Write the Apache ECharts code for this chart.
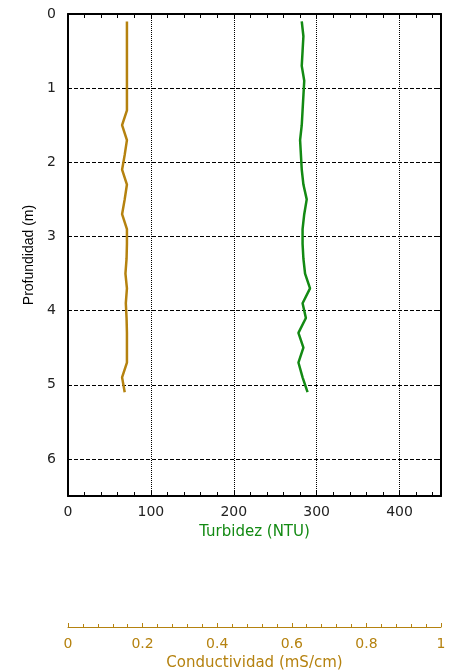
<!DOCTYPE html>
<html>
<head>
<meta charset="utf-8">
<script src="https://cdn.jsdelivr.net/npm/echarts@6/dist/echarts.min.js"></script>
<style>
html, body { margin: 0; padding: 0; background: #fff; }
#main { width: 454px; height: 671px; }
</style>
</head>
<body>
<div id="main"></div>
<script>
// profundidad (m)
var depth = [0.1, 0.3, 0.5, 0.7, 0.9, 1.1, 1.3, 1.5, 1.7, 1.9, 2.1, 2.3, 2.5,
	2.7, 2.9, 3.1, 3.3, 3.5, 3.7, 3.9, 4.1, 4.3, 4.5, 4.7, 4.9, 5.1];
// turbidez (NTU)
var turbidez = [282, 284, 283, 282, 285, 284, 283, 282, 280, 281, 282, 284, 288,
	285, 283, 283, 284, 286, 292, 283, 287, 278, 284, 278, 283, 289];
// conductividad (mS/cm)
var conduct = [0.158, 0.158, 0.158, 0.158, 0.158, 0.158, 0.158, 0.145, 0.158, 0.152,
	0.145, 0.158, 0.152, 0.145, 0.158, 0.158, 0.157, 0.154, 0.158, 0.155,
	0.157, 0.158, 0.158, 0.158, 0.145, 0.152];

var verde = '#138a13';
var ocre = '#b5820f';
var fuente = 'DejaVu Sans, sans-serif';
var fuenteV = 'Liberation Sans, Arial, sans-serif';

function pares(xs) {
	var out = [];
	for (var i = 0; i < depth.length; i++) {
		out.push([xs[i], depth[i]]);
	}
	return out;
}

var myChart = echarts.init(document.getElementById('main'));
var option = {
	animation : false,
	textStyle : { fontFamily : fuente },
	grid : {
		left : 68,
		top : 14,
		width : 373,
		height : 482,
		containLabel : false,
		outerBoundsMode : 'none'
	},
	xAxis : [ {
		// turbidez, abajo
		type : 'value',
		position : 'bottom',
		min : 0,
		max : 450,
		interval : 100,
		name : 'Turbidez (NTU)',
		nameLocation : 'middle',
		nameGap : 29,
		nameTextStyle : { color : verde, fontSize : 15, fontFamily : fuente },
		axisLine : { onZero : false, lineStyle : { color : '#000', width : 2 } },
		axisTick : { inside : true, length : 5, lineStyle : { color : '#000' } },
		minorTick : { show : true, splitNumber : 5, length : 4, lineStyle : { color : '#000' } },
		axisLabel : { color : '#222', fontSize : 14, margin : 9, fontFamily : fuente, showMaxLabel : false },
		splitLine : { show : true, lineStyle : { color : '#000', type : 'dotted', width : 1 } }
	}, {
		// conductividad, abajo con desplazamiento
		type : 'value',
		position : 'bottom',
		offset : 131,
		min : 0,
		max : 1,
		interval : 0.2,
		name : 'Conductividad (mS/cm)',
		nameLocation : 'middle',
		nameGap : 29,
		nameTextStyle : { color : ocre, fontSize : 15, fontFamily : fuente },
		axisLine : { onZero : false, lineStyle : { color : ocre, width : 1 } },
		axisTick : { inside : true, length : 4, lineStyle : { color : ocre } },
		minorTick : { show : true, splitNumber : 5, length : 3, lineStyle : { color : ocre } },
		axisLabel : { color : ocre, fontSize : 14, margin : 10, fontFamily : fuente },
		splitLine : { show : false }
	}, {
		// marco superior
		type : 'value',
		position : 'top',
		min : 0,
		max : 450,
		interval : 100,
		axisLine : { onZero : false, lineStyle : { color : '#000', width : 2 } },
		axisTick : { inside : true, length : 5, lineStyle : { color : '#000' } },
		minorTick : { show : true, splitNumber : 5, length : 4, lineStyle : { color : '#000' } },
		axisLabel : { show : false },
		splitLine : { show : false }
	} ],
	yAxis : [ {
		type : 'value',
		position : 'left',
		inverse : true,
		min : 0,
		max : 6.5,
		interval : 1,
		name : 'Profundidad (m)',
		nameLocation : 'middle',
		nameGap : 30,
		nameTextStyle : { color : '#000', fontSize : 14, fontFamily : fuenteV },
		axisLine : { onZero : false, lineStyle : { color : '#000', width : 2 } },
		axisTick : { show : false },
		axisLabel : { color : '#222', fontSize : 14, margin : 12, fontFamily : fuente, showMaxLabel : false },
		splitLine : { show : true, lineStyle : { color : '#000', type : 'dashed', width : 1 } }
	}, {
		type : 'value',
		position : 'right',
		inverse : true,
		min : 0,
		max : 6.5,
		interval : 1,
		axisLine : { onZero : false, lineStyle : { color : '#000', width : 2 } },
		axisTick : { inside : true, length : 5, lineStyle : { color : '#000' } },
		axisLabel : { show : false },
		splitLine : { show : false }
	} ],
	series : [ {
		name : 'Turbidez',
		type : 'line',
		xAxisIndex : 0,
		yAxisIndex : 0,
		data : pares(turbidez),
		showSymbol : false,
		lineStyle : { color : verde, width : 2.5 }
	}, {
		name : 'Conductividad',
		type : 'line',
		xAxisIndex : 1,
		yAxisIndex : 0,
		data : pares(conduct),
		showSymbol : false,
		lineStyle : { color : ocre, width : 2.5 }
	} ]
};
myChart.setOption(option);
</script>
</body>
</html>
